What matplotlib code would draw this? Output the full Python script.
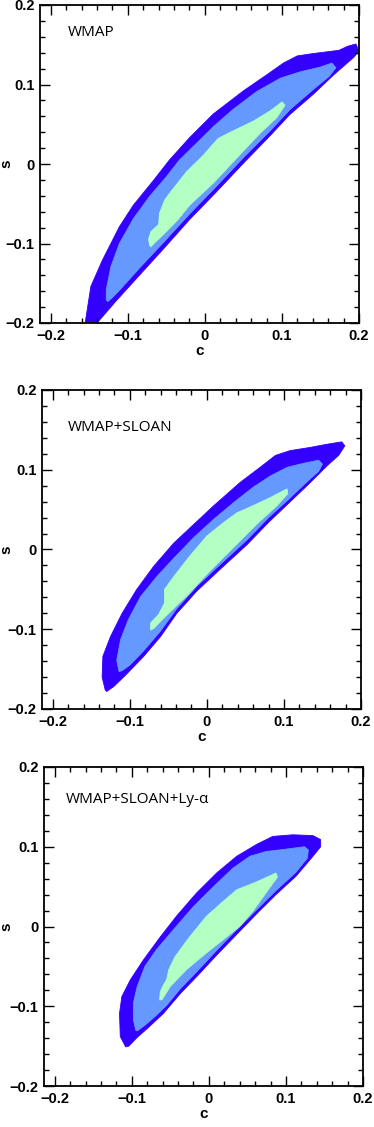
import matplotlib
matplotlib.use("Agg")
import matplotlib.pyplot as plt
from matplotlib.ticker import MultipleLocator

# contour outlines (c, s), one list per level and panel
wmap_c95 = [(-0.157, -0.210), (-0.148, -0.154), (-0.133, -0.121), (-0.111, -0.079), (-0.093, -0.052),
            (-0.067, -0.021), (-0.046, 0.005), (-0.020, 0.033), (0.011, 0.063), (0.050, 0.092),
            (0.080, 0.112), (0.102, 0.127), (0.120, 0.136), (0.141, 0.139), (0.174, 0.143),
            (0.185, 0.148), (0.196, 0.151), (0.200, 0.142), (0.193, 0.134), (0.167, 0.112),
            (0.141, 0.088), (0.110, 0.062), (0.085, 0.036), (0.050, 0.001), (0.015, -0.035),
            (-0.020, -0.070), (-0.054, -0.107), (-0.085, -0.140), (-0.115, -0.172), (-0.140, -0.200),
            (-0.146, -0.210)]
wmap_c68 = [(-0.128, -0.171), (-0.128, -0.158), (-0.122, -0.129), (-0.111, -0.100), (-0.093, -0.069),
            (-0.072, -0.041), (-0.050, -0.016), (-0.033, 0.005), (-0.011, 0.026), (0.011, 0.047),
            (0.037, 0.069), (0.067, 0.091), (0.098, 0.108), (0.124, 0.116), (0.150, 0.122),
            (0.165, 0.127), (0.170, 0.121), (0.161, 0.110), (0.141, 0.094), (0.110, 0.068),
            (0.085, 0.042), (0.050, 0.008), (0.015, -0.028), (-0.020, -0.063), (-0.054, -0.099),
            (-0.085, -0.131), (-0.110, -0.158), (-0.120, -0.168), (-0.126, -0.173)]
wmap_c38 = [(-0.072, -0.102), (-0.073, -0.094), (-0.070, -0.085), (-0.060, -0.076), (-0.059, -0.062),
            (-0.052, -0.045), (-0.046, -0.037), (-0.024, -0.010), (-0.002, 0.011), (0.017, 0.032),
            (0.033, 0.040), (0.063, 0.054), (0.085, 0.067), (0.100, 0.078), (0.104, 0.074),
            (0.093, 0.058), (0.072, 0.039), (0.037, 0.003), (0.011, -0.024), (-0.020, -0.052),
            (-0.035, -0.070), (-0.050, -0.085), (-0.065, -0.099), (-0.070, -0.104)]

sloan_c95 = [(-0.132, -0.176), (-0.136, -0.160), (-0.135, -0.134), (-0.125, -0.109), (-0.110, -0.080),
             (-0.091, -0.050), (-0.069, -0.021), (-0.043, 0.008), (-0.022, 0.027), (0.009, 0.055),
             (0.043, 0.084), (0.069, 0.103), (0.089, 0.118), (0.108, 0.124), (0.134, 0.128),
             (0.156, 0.132), (0.175, 0.135), (0.179, 0.130), (0.171, 0.118), (0.156, 0.105),
             (0.130, 0.080), (0.105, 0.057), (0.080, 0.034), (0.052, 0.006), (0.017, -0.025),
             (-0.013, -0.052), (-0.039, -0.080), (-0.060, -0.109), (-0.082, -0.134), (-0.105, -0.157),
             (-0.121, -0.172), (-0.130, -0.178)]
sloan_c68 = [(-0.114, -0.153), (-0.117, -0.139), (-0.112, -0.113), (-0.102, -0.088), (-0.086, -0.059),
             (-0.065, -0.034), (-0.043, -0.011), (-0.017, 0.015), (0.009, 0.038), (0.035, 0.059),
             (0.060, 0.078), (0.082, 0.092), (0.104, 0.103), (0.125, 0.108), (0.145, 0.112),
             (0.150, 0.107), (0.145, 0.098), (0.130, 0.085), (0.105, 0.062), (0.080, 0.040),
             (0.052, 0.012), (0.017, -0.019), (-0.013, -0.046), (-0.039, -0.074), (-0.060, -0.102),
             (-0.082, -0.127), (-0.100, -0.145), (-0.110, -0.152), (-0.114, -0.153)]
sloan_c38 = [(-0.073, -0.101), (-0.073, -0.092), (-0.063, -0.082), (-0.055, -0.067), (-0.055, -0.050),
             (-0.043, -0.034), (-0.022, -0.008), (0.000, 0.017), (0.022, 0.034), (0.039, 0.046),
             (0.060, 0.055), (0.082, 0.065), (0.104, 0.076), (0.105, 0.070), (0.091, 0.055),
             (0.065, 0.032), (0.034, 0.002), (0.004, -0.027), (-0.026, -0.058), (-0.056, -0.086),
             (-0.069, -0.099)]

lya_c95 = [(-0.108, -0.151), (-0.115, -0.138), (-0.116, -0.109), (-0.113, -0.088), (-0.102, -0.067),
           (-0.085, -0.042), (-0.063, -0.013), (-0.042, 0.013), (-0.016, 0.042), (0.010, 0.067),
           (0.036, 0.088), (0.062, 0.103), (0.083, 0.113), (0.109, 0.115), (0.135, 0.114),
           (0.145, 0.109), (0.145, 0.100), (0.135, 0.088), (0.113, 0.063), (0.087, 0.040),
           (0.062, 0.016), (0.036, -0.010), (0.010, -0.036), (-0.016, -0.063), (-0.037, -0.084),
           (-0.059, -0.109), (-0.080, -0.128), (-0.093, -0.139), (-0.104, -0.150)]
lya_c68 = [(-0.095, -0.130), (-0.098, -0.117), (-0.098, -0.096), (-0.093, -0.075), (-0.083, -0.050),
           (-0.068, -0.029), (-0.046, -0.004), (-0.020, 0.025), (0.006, 0.050), (0.031, 0.073),
           (0.053, 0.088), (0.074, 0.094), (0.100, 0.097), (0.124, 0.100), (0.129, 0.096),
           (0.128, 0.086), (0.113, 0.068), (0.087, 0.045), (0.062, 0.021), (0.036, -0.004),
           (0.010, -0.030), (-0.016, -0.057), (-0.037, -0.078), (-0.055, -0.099), (-0.070, -0.113),
           (-0.082, -0.123), (-0.093, -0.131)]
lya_c38 = [(-0.064, -0.092), (-0.063, -0.082), (-0.059, -0.073), (-0.055, -0.067), (-0.052, -0.054),
           (-0.044, -0.038), (-0.025, -0.013), (-0.003, 0.013), (0.018, 0.031), (0.036, 0.046),
           (0.062, 0.056), (0.087, 0.067), (0.089, 0.062), (0.074, 0.042), (0.057, 0.019),
           (0.040, 0.000), (0.018, -0.017), (-0.003, -0.033), (-0.029, -0.054), (-0.050, -0.075),
           (-0.061, -0.092)]

labels = ["WMAP", "WMAP+SLOAN", "WMAP+SLOAN+Ly-\u03b1"]
contours = [(wmap_c95, wmap_c68, wmap_c38),
            (sloan_c95, sloan_c68, sloan_c38),
            (lya_c95, lya_c68, lya_c38)]
colors = ["#3300ff", "#6699ff", "#b3ffc4"]
tick_vals = [-0.2, -0.1, 0, 0.1, 0.2]
tick_text = ["\u22120.2", "\u22120.1", "0", "0.1", "0.2"]

W, H = 374, 1127
fig = plt.figure(figsize=(W / 100, H / 100), dpi=100)

# axes boxes in pixels: left, top, right, bottom
boxes = [(40, 5, 359, 323), (42, 390, 361, 709), (44, 767, 363, 1086)]
text_pos = [(0.088, 0.915), (0.081, 0.881), (0.069, 0.897)]

for i in range(3):
    l, t, r, b = boxes[i]
    ax = fig.add_axes([l / W, 1 - b / H, (r - l) / W, (b - t) / H])
    for poly, col in zip(contours[i], colors):
        xs = [p[0] for p in poly]
        ys = [p[1] for p in poly]
        ax.fill(xs, ys, color=col, lw=0.6, ec=col, joinstyle="round")
    ax.set_xlim(-0.214, 0.2)
    ax.set_ylim(-0.2, 0.2)
    ax.xaxis.set_minor_locator(MultipleLocator(0.02))
    ax.yaxis.set_minor_locator(MultipleLocator(0.02))
    ax.set_xticks(tick_vals)
    ax.set_xticklabels(tick_text)
    ax.set_yticks(tick_vals)
    ax.set_yticklabels(tick_text)
    ax.tick_params(which="both", direction="in", top=True, right=True, width=1.0, color="black")
    ax.tick_params(which="major", length=7.5, labelsize=10.5, pad=4)
    ax.tick_params(which="minor", length=3.8)
    for lab in ax.get_xticklabels() + ax.get_yticklabels():
        lab.set_fontweight("bold")
        lab.set_family("Liberation Sans")
    for sp in ax.spines.values():
        sp.set_linewidth(1.3)
    ax.set_xlabel("c", fontsize=11, fontweight="bold", family="Liberation Sans", labelpad=1)
    ax.set_ylabel("s", fontsize=11, fontweight="bold", family="Liberation Sans")
    ax.yaxis.set_label_coords((13.5 - l) / (r - l), 0.5)
    ax.text(text_pos[i][0], text_pos[i][1], labels[i], transform=ax.transAxes,
            fontsize=11, va="center", ha="left", family=["Open Sans", "DejaVu Sans"])

fig.savefig("out.png", dpi=100)
